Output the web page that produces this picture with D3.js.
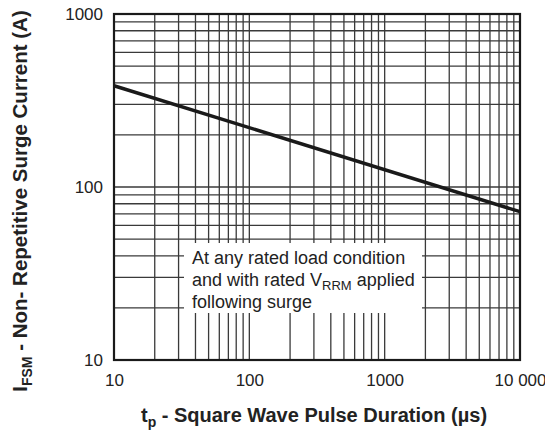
<!DOCTYPE html>
<html><head><meta charset="utf-8">
<script src="https://cdn.jsdelivr.net/npm/d3@7"></script>
<style>body{margin:0;background:#fff}svg{display:block}text{font-family:"Liberation Sans",Arial,Helvetica,sans-serif}</style>
</head><body>
<script>
// Data
const pulseDuration = [10, 10000];          // µs
const surgeCurrent = [385, 72];             // A
const xTicks = [10, 100, 1000, 10000];
const xTickLabels = ["10", "100", "1000", "10 000"];
const yTicks = [10, 100, 1000];
const yTickLabels = ["10", "100", "1000"];
const noteLines = ["At any rated load condition", "and with rated V|RRM| applied", "following surge"];

const W = 545, H = 436;
const m = {l:114, r:25, t:14, b:76};
const svg = d3.select("body").append("svg").attr("width", W).attr("height", H);
const x = d3.scaleLog().domain([10, 10000]).range([m.l, W - m.r]);
const y = d3.scaleLog().domain([10, 1000]).range([H - m.b, m.t]);

// grid values
const xg = [], yg = [];
for (let d = 10; d < 10000; d *= 10) for (let k = 1; k <= 9; k++) xg.push(d * k);
for (let d = 10; d < 1000; d *= 10) for (let k = 1; k <= 9; k++) yg.push(d * k);

const g = svg.append("g");
g.selectAll("line.vx").data(xg).join("line")
  .attr("x1", d => x(d)).attr("x2", d => x(d)).attr("y1", y(10)).attr("y2", y(1000))
  .attr("stroke", "#3a3a3a").attr("stroke-width", 1.3);
g.selectAll("line.hy").data(yg).join("line")
  .attr("y1", d => y(d)).attr("y2", d => y(d)).attr("x1", x(10)).attr("x2", x(10000))
  .attr("stroke", "#3a3a3a").attr("stroke-width", 1.3);

// note box
svg.append("rect").attr("x", 184).attr("y", 243).attr("width", 238).attr("height", 70).attr("fill", "#fff");
noteLines.forEach((ln, i) => {
  const parts = ln.split("|");
  const tx = svg.append("text").attr("x", 192).attr("y", 264 + i * 22).attr("font-size", 18).attr("fill", "#222");
  parts.forEach((p, j) => {
    if (j % 2 === 1) tx.append("tspan").attr("font-size", 13).attr("dy", 4).text(p);
    else tx.append("tspan").attr("dy", j > 0 ? -4 : 0).text(p);
  });
});

// data line
svg.append("path").datum(pulseDuration.map((t, i) => [t, surgeCurrent[i]]))
  .attr("d", d3.line().x(d => x(d[0])).y(d => y(d[1])))
  .attr("stroke", "#1a1a1a").attr("stroke-width", 3.5).attr("fill", "none");

// frame
svg.append("rect").attr("x", x(10)).attr("y", y(1000)).attr("width", x(10000) - x(10)).attr("height", y(10) - y(1000))
  .attr("fill", "none").attr("stroke", "#1a1a1a").attr("stroke-width", 2.2);

// axes
const xa = svg.append("g").attr("transform", `translate(0,${y(10)})`)
  .call(d3.axisBottom(x).tickValues(xTicks).tickFormat((d, i) => xTickLabels[i]).tickSize(0).tickPadding(14));
const ya = svg.append("g").attr("transform", `translate(${x(10)},0)`)
  .call(d3.axisLeft(y).tickValues(yTicks).tickFormat((d, i) => yTickLabels[i]).tickSize(0).tickPadding(11));
[xa, ya].forEach(a => { a.select(".domain").remove(); a.selectAll("text").attr("font-size", 17).attr("fill", "#222").attr("font-family", "Liberation Sans, Arial, sans-serif"); });

// titles
const xt = svg.append("text").attr("x", 314).attr("y", 422).attr("text-anchor", "middle")
  .attr("font-size", 20).attr("font-weight", "bold").attr("fill", "#222");
xt.append("tspan").text("t");
xt.append("tspan").attr("font-size", 14).attr("dy", 5).text("p");
xt.append("tspan").attr("dy", -5).text(" - Square Wave Pulse Duration (µs)");

const yt = svg.append("text").attr("transform", "translate(27,201) rotate(-90)").attr("text-anchor", "middle")
  .attr("font-size", 20.5).attr("font-weight", "bold").attr("fill", "#222");
yt.append("tspan").text("I");
yt.append("tspan").attr("font-size", 14).attr("dy", 5).text("FSM");
yt.append("tspan").attr("dy", -5).text(" - Non- Repetitive Surge Current (A)");
</script>
</body></html>
